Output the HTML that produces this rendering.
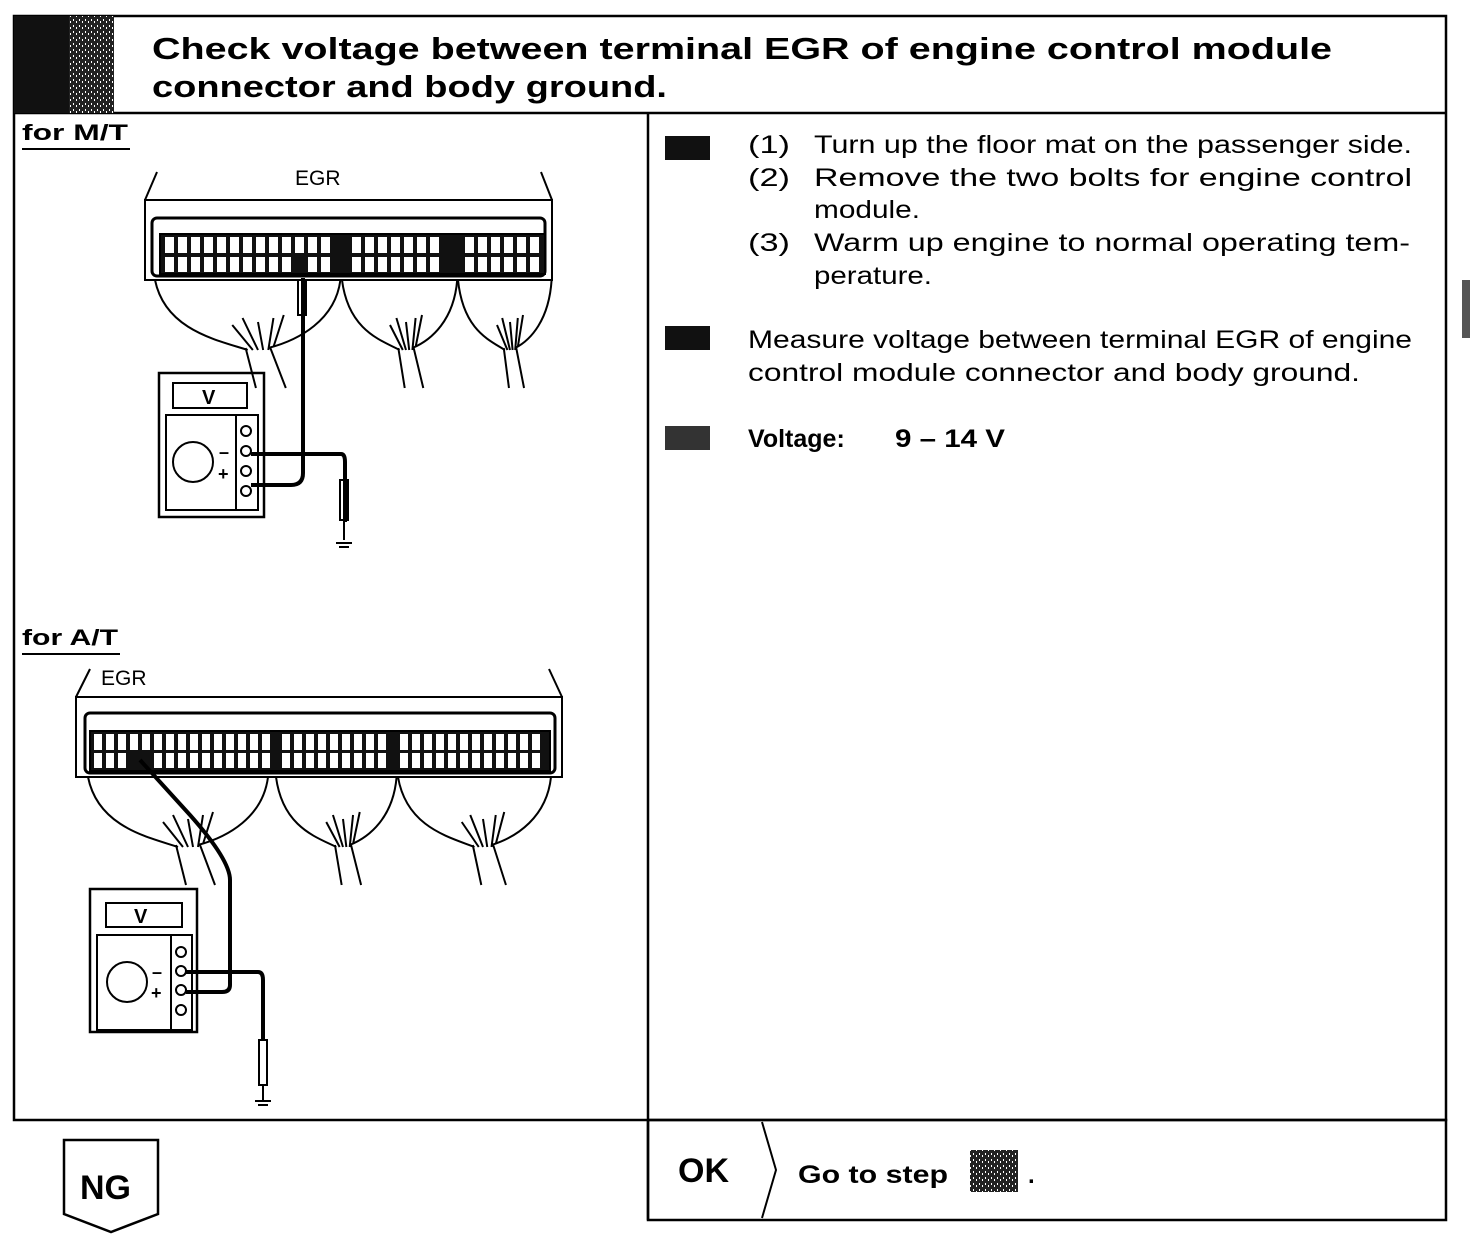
<!DOCTYPE html>
<html><head><meta charset="utf-8"><style>
body{margin:0;background:#fff;}
svg{display:block;font-family:"Liberation Sans",Arial,sans-serif;}
</style></head><body>
<svg width="1472" height="1242" viewBox="0 0 1472 1242" xmlns="http://www.w3.org/2000/svg">
<defs>
<pattern id="dots" width="6" height="6" patternUnits="userSpaceOnUse">
<rect width="6" height="6" fill="#222"/><rect x="1" y="1" width="1" height="2" fill="#fff"/><rect x="4" y="3" width="1" height="2" fill="#fff"/>
</pattern>
<g id="wires">
<path d="M0,0 C10,50 60,60 90,70 M180,0 C175,40 140,60 110,68 M75,45 l20,25 M85,38 l15,32 M100,42 l5,28 M115,38 l-5,32 M125,35 l-10,32 M88,68 l10,40 M112,68 l15,40" fill="none" stroke="#000" stroke-width="2" vector-effect="non-scaling-stroke"/>
</g>
</defs>
<g fill="none" stroke="#000" stroke-width="2.5">
<rect x="14" y="16" width="1432" height="1104"/>
<line x1="14" y1="113" x2="1446" y2="113"/>
<line x1="648" y1="113" x2="648" y2="1220"/>
<polyline points="648,1120 648,1220 1446,1220 1446,1120 648,1120"/>
<polyline points="762,1122 776,1170 762,1218" stroke-width="2"/>
<polygon points="64,1140 158,1140 158,1214 111,1232 64,1214"/>
</g>
<rect x="14" y="16" width="100" height="97" fill="url(#dots)"/>
<rect x="14" y="16" width="55" height="97" fill="#111"/>
<text x="152" y="59" font-size="31" font-weight="bold" textLength="1180" lengthAdjust="spacingAndGlyphs">Check voltage between terminal EGR of engine control module</text>
<text x="152" y="97" font-size="31" font-weight="bold" textLength="515" lengthAdjust="spacingAndGlyphs">connector and body ground.</text>

<text x="22" y="140" font-size="22" font-weight="bold" textLength="106" lengthAdjust="spacingAndGlyphs">for M/T</text>
<line x1="22" y1="149" x2="130" y2="149" stroke="#000" stroke-width="2"/>
<text x="22" y="645" font-size="22" font-weight="bold" textLength="96" lengthAdjust="spacingAndGlyphs">for A/T</text>
<line x1="22" y1="654" x2="120" y2="654" stroke="#000" stroke-width="2"/>

<!-- M/T connector -->
<g stroke="#000" fill="none" stroke-width="2">
<text x="295" y="185" font-size="21" stroke="none" fill="#000">EGR</text>
<line x1="145" y1="200" x2="157" y2="172"/><line x1="552" y1="200" x2="541" y2="172"/>
<rect x="145" y="200" width="407" height="80"/>
<rect x="152" y="218" width="393" height="58" rx="5" stroke-width="3"/>
<rect x="160" y="234" width="385" height="40" fill="#111"/>
<g transform="translate(155,280) scale(1.03,1)"><use href="#wires"/></g>
<g transform="translate(342,280) scale(0.64,1)"><use href="#wires"/></g>
<g transform="translate(458,280) scale(0.52,1)"><use href="#wires"/></g>
<rect x="159" y="373" width="105" height="144" stroke-width="2.5"/>
<rect x="173" y="383" width="74" height="25"/>
<text x="202" y="404" font-size="20" font-weight="bold" stroke="none" fill="#000">V</text>
<rect x="166" y="415" width="92" height="95"/>
<line x1="236" y1="415" x2="236" y2="510"/>
<circle cx="193" cy="462" r="20"/>
<circle cx="246" cy="431" r="5"/><circle cx="246" cy="451" r="5"/><circle cx="246" cy="471" r="5"/><circle cx="246" cy="491" r="5"/>
<text x="219" y="458" font-size="18" font-weight="bold" stroke="none" fill="#000">–</text>
<text x="218" y="480" font-size="18" font-weight="bold" stroke="none" fill="#000">+</text>
<path d="M303,278 v195 q0,12 -12,12 h-40" stroke-width="4"/>
<rect x="298" y="280" width="8" height="35"/>
<path d="M251,454 h90 q4,0 4,8 v60" stroke-width="4"/>
<rect x="340" y="480" width="8" height="40"/>
<path d="M344,520 v20 M336,543 h16 M339,547 h10"/>
</g>

<!-- A/T connector -->
<g stroke="#000" fill="none" stroke-width="2">
<text x="101" y="685" font-size="21" stroke="none" fill="#000">EGR</text>
<line x1="76" y1="697" x2="90" y2="669"/><line x1="562" y1="697" x2="549" y2="669"/>
<rect x="76" y="697" width="486" height="80"/>
<rect x="85" y="713" width="470" height="60" rx="5" stroke-width="3"/>
<rect x="90" y="731" width="460" height="40" fill="#111"/>
<g transform="translate(88,777) scale(1.0,1)"><use href="#wires"/></g>
<g transform="translate(276,777) scale(0.67,1)"><use href="#wires"/></g>
<g transform="translate(398,777) scale(0.85,1)"><use href="#wires"/></g>
<rect x="90" y="889" width="107" height="143" stroke-width="2.5"/>
<rect x="106" y="903" width="76" height="24"/>
<text x="134" y="923" font-size="20" font-weight="bold" stroke="none" fill="#000">V</text>
<rect x="97" y="935" width="95" height="95"/>
<line x1="171" y1="935" x2="171" y2="1030"/>
<circle cx="127" cy="982" r="20"/>
<circle cx="181" cy="952" r="5"/><circle cx="181" cy="971" r="5"/><circle cx="181" cy="990" r="5"/><circle cx="181" cy="1010" r="5"/>
<text x="152" y="978" font-size="18" font-weight="bold" stroke="none" fill="#000">–</text>
<text x="151" y="999" font-size="18" font-weight="bold" stroke="none" fill="#000">+</text>
<path d="M140,760 L190,815 Q230,860 230,880 V985 q0,7 -8,7 h-36" stroke-width="4"/>
<path d="M186,972 h72 q5,0 5,8 v60" stroke-width="4"/>
<rect x="259" y="1040" width="8" height="45"/>
<path d="M263,1085 v15 M255,1101 h16 M258,1105 h10"/>
</g>

<g fill="#fff">
<rect x="165" y="237" width="9" height="16"/><rect x="178" y="237" width="9" height="16"/><rect x="191" y="237" width="9" height="16"/><rect x="204" y="237" width="9" height="16"/><rect x="217" y="237" width="9" height="16"/><rect x="230" y="237" width="9" height="16"/><rect x="243" y="237" width="9" height="16"/><rect x="256" y="237" width="9" height="16"/><rect x="269" y="237" width="9" height="16"/><rect x="282" y="237" width="9" height="16"/><rect x="295" y="237" width="9" height="16"/><rect x="308" y="237" width="9" height="16"/><rect x="321" y="237" width="9" height="16"/><rect x="352" y="237" width="9" height="16"/><rect x="365" y="237" width="9" height="16"/><rect x="378" y="237" width="9" height="16"/><rect x="391" y="237" width="9" height="16"/><rect x="404" y="237" width="9" height="16"/><rect x="417" y="237" width="9" height="16"/><rect x="430" y="237" width="9" height="16"/><rect x="465" y="237" width="9" height="16"/><rect x="478" y="237" width="9" height="16"/><rect x="491" y="237" width="9" height="16"/><rect x="504" y="237" width="9" height="16"/><rect x="517" y="237" width="9" height="16"/><rect x="530" y="237" width="9" height="16"/>
<rect x="165" y="257" width="9" height="15"/><rect x="178" y="257" width="9" height="15"/><rect x="191" y="257" width="9" height="15"/><rect x="204" y="257" width="9" height="15"/><rect x="217" y="257" width="9" height="15"/><rect x="230" y="257" width="9" height="15"/><rect x="243" y="257" width="9" height="15"/><rect x="256" y="257" width="9" height="15"/><rect x="269" y="257" width="9" height="15"/><rect x="282" y="257" width="9" height="15"/><rect x="308" y="257" width="9" height="15"/><rect x="321" y="257" width="9" height="15"/><rect x="352" y="257" width="9" height="15"/><rect x="365" y="257" width="9" height="15"/><rect x="378" y="257" width="9" height="15"/><rect x="391" y="257" width="9" height="15"/><rect x="404" y="257" width="9" height="15"/><rect x="417" y="257" width="9" height="15"/><rect x="430" y="257" width="9" height="15"/><rect x="465" y="257" width="9" height="15"/><rect x="478" y="257" width="9" height="15"/><rect x="491" y="257" width="9" height="15"/><rect x="504" y="257" width="9" height="15"/><rect x="517" y="257" width="9" height="15"/><rect x="530" y="257" width="9" height="15"/>
</g>
<g fill="#fff">
<rect x="94" y="734" width="8" height="16"/><rect x="106" y="734" width="8" height="16"/><rect x="118" y="734" width="8" height="16"/><rect x="130" y="734" width="8" height="16"/><rect x="142" y="734" width="8" height="16"/><rect x="154" y="734" width="8" height="16"/><rect x="166" y="734" width="8" height="16"/><rect x="178" y="734" width="8" height="16"/><rect x="190" y="734" width="8" height="16"/><rect x="202" y="734" width="8" height="16"/><rect x="214" y="734" width="8" height="16"/><rect x="226" y="734" width="8" height="16"/><rect x="238" y="734" width="8" height="16"/><rect x="250" y="734" width="8" height="16"/><rect x="262" y="734" width="8" height="16"/><rect x="282" y="734" width="8" height="16"/><rect x="294" y="734" width="8" height="16"/><rect x="306" y="734" width="8" height="16"/><rect x="318" y="734" width="8" height="16"/><rect x="330" y="734" width="8" height="16"/><rect x="342" y="734" width="8" height="16"/><rect x="354" y="734" width="8" height="16"/><rect x="366" y="734" width="8" height="16"/><rect x="378" y="734" width="8" height="16"/><rect x="400" y="734" width="8" height="16"/><rect x="412" y="734" width="8" height="16"/><rect x="424" y="734" width="8" height="16"/><rect x="436" y="734" width="8" height="16"/><rect x="448" y="734" width="8" height="16"/><rect x="460" y="734" width="8" height="16"/><rect x="472" y="734" width="8" height="16"/><rect x="484" y="734" width="8" height="16"/><rect x="496" y="734" width="8" height="16"/><rect x="508" y="734" width="8" height="16"/><rect x="520" y="734" width="8" height="16"/><rect x="532" y="734" width="8" height="16"/>
<rect x="94" y="753" width="8" height="15"/><rect x="106" y="753" width="8" height="15"/><rect x="118" y="753" width="8" height="15"/><rect x="154" y="753" width="8" height="15"/><rect x="166" y="753" width="8" height="15"/><rect x="178" y="753" width="8" height="15"/><rect x="190" y="753" width="8" height="15"/><rect x="202" y="753" width="8" height="15"/><rect x="214" y="753" width="8" height="15"/><rect x="226" y="753" width="8" height="15"/><rect x="238" y="753" width="8" height="15"/><rect x="250" y="753" width="8" height="15"/><rect x="262" y="753" width="8" height="15"/><rect x="282" y="753" width="8" height="15"/><rect x="294" y="753" width="8" height="15"/><rect x="306" y="753" width="8" height="15"/><rect x="318" y="753" width="8" height="15"/><rect x="330" y="753" width="8" height="15"/><rect x="342" y="753" width="8" height="15"/><rect x="354" y="753" width="8" height="15"/><rect x="366" y="753" width="8" height="15"/><rect x="378" y="753" width="8" height="15"/><rect x="400" y="753" width="8" height="15"/><rect x="412" y="753" width="8" height="15"/><rect x="424" y="753" width="8" height="15"/><rect x="436" y="753" width="8" height="15"/><rect x="448" y="753" width="8" height="15"/><rect x="460" y="753" width="8" height="15"/><rect x="472" y="753" width="8" height="15"/><rect x="484" y="753" width="8" height="15"/><rect x="496" y="753" width="8" height="15"/><rect x="508" y="753" width="8" height="15"/><rect x="520" y="753" width="8" height="15"/><rect x="532" y="753" width="8" height="15"/>
</g>

<!-- right text -->
<g font-size="25" fill="#000" lengthAdjust="spacingAndGlyphs">
<rect x="665" y="136" width="45" height="24" fill="#111"/>
<text x="748" y="153" textLength="42" lengthAdjust="spacingAndGlyphs">(1)</text><text x="814" y="153" textLength="598" lengthAdjust="spacingAndGlyphs">Turn up the floor mat on the passenger side.</text>
<text x="748" y="186" textLength="42" lengthAdjust="spacingAndGlyphs">(2)</text><text x="814" y="186" textLength="598" lengthAdjust="spacingAndGlyphs">Remove the two bolts for engine control</text>
<text x="814" y="218" textLength="106" lengthAdjust="spacingAndGlyphs">module.</text>
<text x="748" y="251" textLength="42" lengthAdjust="spacingAndGlyphs">(3)</text><text x="814" y="251" textLength="596" lengthAdjust="spacingAndGlyphs">Warm up engine to normal operating tem-</text>
<text x="814" y="284" textLength="118" lengthAdjust="spacingAndGlyphs">perature.</text>
<rect x="665" y="326" width="45" height="24" fill="#111"/>
<text x="748" y="348" textLength="664" lengthAdjust="spacingAndGlyphs">Measure voltage between terminal EGR of engine</text>
<text x="748" y="381" textLength="612" lengthAdjust="spacingAndGlyphs">control module connector and body ground.</text>
<rect x="665" y="426" width="45" height="24" fill="#333"/>
<text x="748" y="447" font-weight="bold">Voltage:</text>
<text x="895" y="447" font-weight="bold" textLength="110" lengthAdjust="spacingAndGlyphs">9 – 14 V</text>
</g>
<rect x="1462" y="280" width="8" height="58" fill="#555"/>

<text x="678" y="1182" font-size="34" font-weight="bold">OK</text>
<text x="798" y="1183" font-size="25" font-weight="bold" textLength="150" lengthAdjust="spacingAndGlyphs">Go to step</text>
<rect x="970" y="1150" width="48" height="42" fill="url(#dots)"/>
<text x="1028" y="1183" font-size="24" font-weight="bold">.</text>
<text x="80" y="1199" font-size="34" font-weight="bold">NG</text>
</svg>
</body></html>
